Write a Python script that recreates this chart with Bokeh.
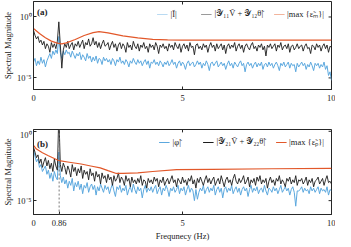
import numpy as np
from bokeh.plotting import figure
from bokeh.layouts import column
from bokeh.models import (FixedTicker, CustomJSTickFormatter, Range1d,
                          Legend, LegendItem, Span, Label)
from bokeh.embed import file_html
from bokeh.resources import INLINE

# ---------------- data (log10 of spectral magnitude) ----------------
freq = np.linspace(0, 10, 201)   # frequency bins, Hz (step 0.05)

a_black_log = [
    -1.1, -1.5, -1.8, -1.6, -2.1, -1.9, -2.3, -2.0, -2.6, -2.2,
    -2.4, -2.9, -2.1, -2.5, -2.2, -2.6, -2.0, -0.4, -2.3, -4.2,
    -2.7, -2.2, -2.5, -2.0, -2.6, -2.3, -2.1, -2.7, -2.2, -2.4,
    -2.0, -2.5, -2.2, -1.9, -2.6, -2.1, -2.3, -1.8, -2.4, -2.2,
    -1.7, -2.3, -2.0, -2.5, -2.1, -2.6, -2.2, -1.9, -2.4, -2.3,
    -2.1, -2.7, -2.3, -2.0, -2.5, -2.2, -2.8, -2.3, -2.1, -2.6,
    -2.2, -2.4, -2.9, -2.1, -2.5, -2.3, -2.7, -2.0, -2.4, -2.6,
    -2.2, -2.8, -2.3, -2.5, -2.1, -2.6, -2.4, -2.9, -2.2, -2.5,
    -2.3, -2.7, -2.1, -2.4, -3.0, -2.3, -2.5, -2.2, -2.6, -2.4,
    -2.8, -2.2, -2.5, -2.3, -2.7, -2.1, -2.4, -2.6, -2.2, -2.9,
    -2.4, -2.2, -2.6, -2.3, -2.8, -2.1, -2.5, -2.4, -3.1, -2.3,
    -2.2, -2.6, -2.4, -2.7, -2.2, -2.5, -2.3, -2.9, -2.4, -2.1,
    -2.5, -2.3, -2.8, -2.2, -2.6, -2.4, -2.2, -2.7, -2.3, -3.0,
    -2.4, -2.2, -2.6, -2.3, -2.5, -2.1, -2.8, -2.4, -2.2, -2.6,
    -2.3, -2.9, -2.4, -2.2, -2.5, -2.7, -2.3, -2.1, -2.6, -2.4,
    -2.8, -2.3, -2.5, -2.2, -2.7, -2.4, -3.2, -2.3, -2.5, -2.2,
    -2.6, -2.4, -2.2, -2.8, -2.3, -2.5, -2.1, -2.7, -2.4, -2.3,
    -2.6, -2.2, -2.9, -2.4, -2.3, -2.7, -2.5, -2.2, -2.6, -2.4,
    -2.3, -2.8, -2.4, -2.2, -2.6, -2.5, -3.0, -2.3, -2.4, -2.7,
    -2.2, -2.5, -2.3, -2.8, -2.4, -2.2, -2.6, -2.3, -2.9, -2.4, -2.5,
]

a_blue_log = [
    -3.7, -3.4, -4.0, -3.6, -3.9, -3.3, -3.8, -3.5, -4.1, -3.6,
    -3.3, -3.0, -3.4, -2.8, -3.1, -2.7, -3.0, -1.6, -2.9, -3.4,
    -2.8, -3.1, -2.7, -3.0, -2.9, -3.3, -2.8, -3.1, -3.4, -3.0,
    -3.2, -2.9, -3.5, -3.1, -3.3, -3.6, -3.0, -3.4, -3.2, -3.7,
    -3.3, -3.6, -3.2, -3.8, -3.4, -3.5, -3.9, -3.3, -3.6, -3.4,
    -3.7, -3.5, -3.9, -3.4, -3.6, -4.0, -3.5, -3.7, -3.3, -3.8,
    -3.6, -3.9, -3.5, -3.7, -4.1, -3.6, -3.8, -3.4, -3.7, -3.9,
    -3.5, -3.8, -3.6, -4.0, -3.7, -3.5, -3.9, -3.6, -4.2, -3.7,
    -3.8, -3.5, -3.9, -3.7, -4.0, -3.6, -3.8, -4.1, -3.7, -3.9,
    -3.6, -4.0, -3.8, -3.5, -3.9, -3.7, -4.2, -3.8, -3.6, -4.0,
    -3.7, -3.9, -4.3, -3.8, -3.6, -4.0, -3.8, -3.7, -4.1, -3.9,
    -3.6, -3.9, -3.7, -4.2, -3.8, -4.0, -3.6, -3.9, -4.4, -3.8,
    -3.7, -4.0, -3.8, -3.6, -4.1, -3.9, -3.7, -4.0, -3.8, -4.3,
    -3.9, -3.6, -4.0, -3.8, -4.2, -3.7, -3.9, -4.1, -3.8, -3.6,
    -4.0, -3.8, -4.5, -3.9, -3.7, -4.0, -3.8, -4.2, -3.9, -3.7,
    -4.1, -3.8, -4.0, -3.7, -4.3, -3.9, -3.8, -4.1, -3.7, -4.0,
    -3.8, -4.2, -3.9, -3.7, -4.0, -4.4, -3.8, -4.0, -3.7, -4.1,
    -3.9, -3.7, -4.2, -3.8, -4.0, -3.9, -4.5, -3.8, -4.1, -3.9,
    -3.7, -4.0, -3.8, -4.3, -3.9, -4.1, -3.7, -4.0, -4.4, -3.8,
    -4.0, -3.8, -4.2, -3.9, -4.1, -3.7, -4.3, -4.0, -4.8, -4.5, -5.2,
]

a_orange_f = [0, 0.2, 0.4, 0.6, 0.8, 0.95, 1.1, 1.4, 1.7, 2.0, 2.2, 2.5, 3.0, 3.5, 4.0, 4.5, 5.0, 10.0]
a_orange_log = [-0.95, -1.35, -1.7, -1.98, -2.15, -2.2, -2.12, -1.85, -1.52, -1.28, -1.2, -1.3,
                -1.55, -1.72, -1.83, -1.88, -1.9, -1.9]

b_black_log = [
    -1.15, -1.5, -1.9, -1.7, -2.3, -2.0, -2.6, -2.2, -1.9, -2.5,
    -2.1, -2.7, -2.3, -2.9, -2.0, -2.5, -2.8, 1.2, -2.4, -2.9,
    -2.3, -2.6, -3.1, -2.5, -2.8, -3.3, -2.4, -2.9, -2.6, -3.2,
    -2.7, -3.0, -2.5, -3.4, -2.8, -3.1, -2.9, -3.5, -2.7, -3.2,
    -3.0, -3.6, -2.9, -3.3, -3.1, -3.8, -3.0, -3.4, -3.2, -3.7,
    -3.1, -3.5, -3.3, -3.9, -3.2, -3.6, -3.4, -3.0, -3.7, -3.3,
    -3.5, -3.9, -3.2, -3.6, -3.4, -4.0, -3.3, -3.7, -3.5, -3.8,
    -3.4, -3.7, -3.2, -3.9, -3.5, -3.6, -4.1, -3.4, -3.7, -3.5,
    -3.8, -3.3, -3.6, -3.4, -4.0, -3.5, -3.7, -3.3, -3.9, -3.6,
    -3.4, -3.8, -3.5, -3.2, -3.7, -3.5, -4.0, -3.4, -3.6, -3.8,
    -3.3, -3.7, -3.5, -3.9, -3.4, -3.6, -3.2, -3.8, -3.5, -4.1,
    -3.4, -3.7, -3.3, -3.6, -3.9, -3.5, -3.2, -3.7, -3.4, -3.8,
    -3.5, -3.3, -3.9, -3.6, -3.4, -3.8, -3.2, -3.6, -4.0, -3.5,
    -3.3, -3.7, -3.5, -3.9, -3.4, -3.1, -3.6, -3.8, -3.4, -3.7,
    -3.5, -3.2, -3.8, -3.6, -3.3, -4.0, -3.5, -3.7, -3.4, -3.9,
    -3.3, -3.6, -3.2, -3.8, -3.5, -3.7, -3.4, -4.1, -3.6, -3.3,
    -3.7, -3.5, -3.9, -3.4, -3.6, -3.2, -3.8, -3.5, -3.7, -4.0,
    -3.4, -3.6, -3.3, -3.8, -3.5, -3.7, -3.2, -3.9, -3.5, -3.6,
    -3.4, -3.8, -3.6, -3.3, -3.9, -3.5, -3.7, -3.4, -4.0, -3.6,
    -3.5, -3.3, -3.8, -3.6, -3.4, -3.9, -3.5, -3.2, -3.7, -3.6, -3.8,
]

b_blue_log = [
    -1.3, -1.8, -2.2, -2.0, -2.6, -2.4, -2.9, -2.7, -2.5, -3.1,
    -2.8, -3.4, -3.0, -3.6, -2.9, -3.3, -3.5, -1.5, -3.2, -3.7,
    -3.3, -3.8, -3.5, -4.1, -3.6, -3.9, -3.4, -4.3, -3.7, -4.0,
    -3.6, -4.2, -3.8, -4.5, -3.9, -4.1, -3.7, -4.4, -4.0, -3.8,
    -4.2, -3.9, -4.6, -4.0, -4.3, -3.8, -4.1, -4.4, -3.9, -4.2,
    -4.0, -4.5, -4.1, -3.8, -4.3, -4.7, -4.0, -4.2, -3.9, -4.4,
    -4.1, -4.3, -3.9, -4.6, -4.2, -4.0, -4.4, -3.8, -4.2, -4.5,
    -4.0, -4.3, -4.1, -4.8, -4.2, -3.9, -4.4, -4.1, -4.3, -4.0,
    -4.4, -4.1, -3.9, -4.5, -4.2, -4.0, -4.6, -4.1, -4.3, -3.9,
    -4.2, -4.7, -4.1, -4.3, -4.0, -4.4, -4.2, -3.9, -4.5, -4.1,
    -4.3, -4.0, -4.6, -4.2, -3.9, -4.4, -4.1, -4.3, -5.0, -4.2,
    -4.9, -4.4, -4.1, -4.3, -3.9, -4.5, -4.2, -4.0, -4.4, -4.1,
    -4.3, -3.9, -4.6, -4.2, -4.0, -4.4, -4.1, -4.8, -4.2, -4.0,
    -4.4, -4.1, -4.3, -3.9, -4.5, -4.2, -4.0, -4.4, -4.1, -4.6,
    -4.2, -4.0, -4.3, -4.1, -4.7, -4.2, -3.9, -4.4, -4.1, -4.3,
    -4.0, -4.5, -4.2, -4.1, -4.4, -3.9, -4.3, -4.6, -4.1, -4.2,
    -4.4, -4.0, -4.3, -4.1, -4.5, -4.2, -3.9, -4.4, -4.2, -4.0,
    -4.3, -4.1, -4.6, -4.2, -4.0, -4.4, -5.4, -4.3, -4.3, -4.2,
    -4.0, -4.4, -4.1, -4.3, -4.2, -4.5, -4.0, -4.3, -4.1, -4.4,
    -4.2, -4.0, -4.5, -4.1, -4.3, -4.2, -4.4, -4.0, -4.6, -4.2, -4.3,
]

b_orange_f = [0, 0.1, 0.3, 0.5, 0.86, 1.2, 1.6, 1.92, 2.24, 2.5, 2.78, 3.0, 3.5, 4.0, 4.8, 6.0, 8.0, 10.0]
b_orange_log = [-1.01, -1.28, -1.55, -1.76, -2.12, -2.23, -2.36, -2.5, -2.64, -2.84, -3.04, -3.04,
                -3.0, -2.9, -2.77, -2.74, -2.7, -2.67]

f_peak = 0.86
x_ticks_a = [0, 5, 10]
x_ticks_b = [0, 0.86, 5, 10]
y_ticks = [1e-5, 1.0]

legend_a = ["|Ĩ|", "|𝒴₁₁Ṽ + 𝒴₁₂θ̃|", "|max {ε̃ₘ}|"]
legend_b = ["|φ̃|", "|𝒴₂₁Ṽ + 𝒴₂₂θ̃|", "|max {ε̃ₚ}|"]

# ---------------- styling ----------------
FONT = "Liberation Serif"
BLUE = "#5CA8DE"
BLACK = "#1c1c1c"
ORANGE = "#E2582A"
AXC = "#262626"
FRAME_H = 88

def pw(v):
    return [10 ** x for x in v]

ytick_fmt = CustomJSTickFormatter(code="""
    if (Math.abs(Math.log10(tick)) < 0.01) { return '10\u2070'; }
    return '10\u207b\u2075';
""")

def make_fig(height, ylog, xticks, top, bottom, xlabel):
    p = figure(width=335, height=height, output_backend="svg", toolbar_location=None,
               y_axis_type="log", x_range=Range1d(0, 10), y_range=Range1d(10 ** ylog[0], 10 ** ylog[1]),
               min_border_left=22, min_border_right=4, min_border_top=top, min_border_bottom=bottom)
    p.xgrid.visible = False
    p.ygrid.visible = False
    p.outline_line_color = AXC
    p.outline_line_width = 1
    for ax in (p.xaxis[0], p.yaxis[0]):
        ax.axis_line_color = AXC
        ax.major_tick_line_color = AXC
        ax.major_tick_in = 3
        ax.major_tick_out = 0
        ax.minor_tick_line_color = None
        ax.major_label_text_font = FONT
        ax.major_label_text_font_size = "8.5px"
        ax.major_label_text_color = "#222222"
        ax.axis_label_text_font = FONT
        ax.axis_label_text_font_size = "8.5px"
        ax.axis_label_text_font_style = "normal"
        ax.axis_label_text_color = "#222222"
    p.xaxis.ticker = FixedTicker(ticks=xticks)
    p.xaxis.major_label_standoff = 5
    p.yaxis.ticker = FixedTicker(ticks=y_ticks)
    p.yaxis.formatter = ytick_fmt
    p.yaxis.major_label_standoff = 2
    p.yaxis.axis_label = "Spectral Magnitude"
    p.yaxis.axis_label_standoff = 1
    if xlabel:
        p.xaxis.axis_label = xlabel
        p.xaxis.axis_label_standoff = 2
    # box ticks on the top and right edges (inward), derived from the tick lists and ranges
    y0, y1 = ylog
    tick_dec = (y1 - y0) * 3.0 / FRAME_H
    tick_x = 10 * 3.0 / 305.0
    p.segment(x0=xticks, x1=xticks, y0=[10 ** y1] * len(xticks),
              y1=[10 ** (y1 - tick_dec)] * len(xticks), line_color=AXC, line_width=1)
    p.segment(x0=[10] * len(y_ticks), x1=[10 - tick_x] * len(y_ticks), y0=y_ticks, y1=y_ticks,
              line_color=AXC, line_width=1)
    return p

def add_legend(p, labels, colors):
    items = []
    for lab, c in zip(labels, colors):
        r = p.line(x=[-5, -4], y=[1e-3, 1e-3], line_color=c, line_width=1.2)
        items.append(LegendItem(label=lab, renderers=[r]))
    leg = Legend(items=items, orientation="horizontal", location="top_right",
                 label_text_font=FONT, label_text_font_size="8.5px", label_text_color="#222222",
                 glyph_width=11, glyph_height=10, label_height=10, label_standoff=3,
                 spacing=10, padding=0, margin=7, border_line_color=None,
                 background_fill_alpha=0)
    p.add_layout(leg)

# ---------------- panel (a) ----------------
pa = make_fig(1 + FRAME_H + 40, (-5.95, 1.27), x_ticks_a, 1, 40, None)
pa.line(freq, pw(a_blue_log), line_color=BLUE, line_width=1)
pa.line(freq, pw(a_black_log), line_color=BLACK, line_width=0.9)
pa.line(a_orange_f, pw(a_orange_log), line_color=ORANGE, line_width=1.2)
add_legend(pa, legend_a, ["#B9DAF2", "#9a9a9a", "#F2B49C"])
pa.add_layout(Label(x=0.12, y=10 ** 0.42, text="(a)", text_font=FONT, text_font_size="9px",
                    text_font_style="bold", text_baseline="middle", text_color="#222222"))

# ---------------- panel (b) ----------------
pb = make_fig(FRAME_H + 26, (-6.0, 0.13), x_ticks_b, 0, 26, "Frequnecy (Hz)")
pb.add_layout(Span(location=f_peak, dimension="height", line_color="#7a7a7a",
                   line_dash="2 2", line_width=1))
pb.line(freq, pw(b_blue_log), line_color=BLUE, line_width=1)
pb.line(freq, pw(b_black_log), line_color=BLACK, line_width=0.9)
pb.line(b_orange_f, pw(b_orange_log), line_color=ORANGE, line_width=1.2)
add_legend(pb, legend_b, [BLUE, BLACK, ORANGE])
pb.add_layout(Label(x=0.12, y=10 ** -0.88, text="(b)", text_font=FONT, text_font_size="9px",
                    text_font_style="bold", text_baseline="middle", text_color="#222222"))

layout = column(pa, pb, spacing=0)
open("out.html", "w").write(file_html(layout, INLINE))
